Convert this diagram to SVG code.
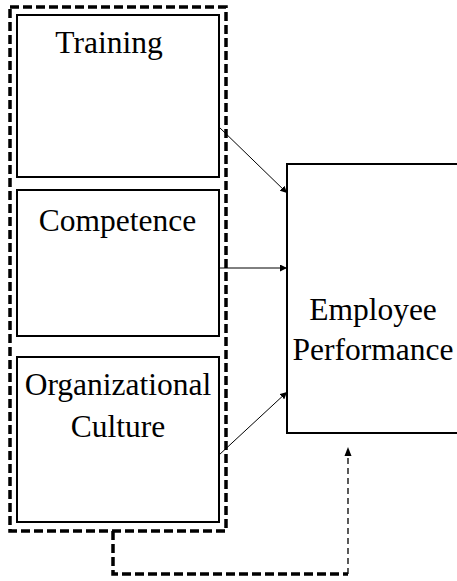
<svg xmlns="http://www.w3.org/2000/svg" width="457" height="581" viewBox="0 0 457 581">
<style>
.box{fill:#fff;stroke:#000;stroke-width:2}
.lbl{font-family:"Liberation Serif","Times New Roman",serif;font-size:31.5px;fill:#000;text-anchor:middle}
.thick{fill:none;stroke:#000;stroke-width:3.5;stroke-dasharray:9 4}
.arr{fill:none;stroke:#000;stroke-width:1;marker-end:url(#ah)}
</style>
<defs>
<marker id="ah" viewBox="0 0 10 10" refX="10" refY="5" markerWidth="7" markerHeight="7" markerUnits="userSpaceOnUse" orient="auto">
<path d="M0,0 L10,5 L0,10 z" fill="#000"/>
</marker>
</defs>
<g id="group-outline">
<rect class="thick" x="10" y="7" width="216" height="524"/>
</g>
<g id="node-training">
<rect class="box" x="17" y="15" width="202" height="162"/>
<text class="lbl" x="109" y="53">Training</text>
</g>
<g id="node-competence">
<rect class="box" x="17" y="190" width="202" height="146"/>
<text class="lbl" x="117.5" y="231">Competence</text>
</g>
<g id="node-culture">
<rect class="box" x="17" y="357" width="202" height="165"/>
<text class="lbl" x="118" y="395">Organizational</text>
<text class="lbl" x="118" y="437">Culture</text>
</g>
<g id="node-performance">
<rect class="box" x="287" y="164" width="180" height="269"/>
<text class="lbl" x="373" y="320">Employee</text>
<text class="lbl" x="373" y="360">Performance</text>
</g>
<g id="connectors">
<line class="arr" x1="219" y1="127" x2="287" y2="193"/>
<line class="arr" x1="219" y1="268" x2="287" y2="268"/>
<line class="arr" x1="219" y1="455" x2="287" y2="392"/>
<polyline class="thick" points="113,531 113,574 348,574"/>
<line x1="348" y1="574" x2="348" y2="455" fill="none" stroke="#000" stroke-width="1.3" stroke-dasharray="6 4"/>
<path d="M344.5,456 L348,447 L351.5,456 z" fill="#000"/>
</g>
</svg>
